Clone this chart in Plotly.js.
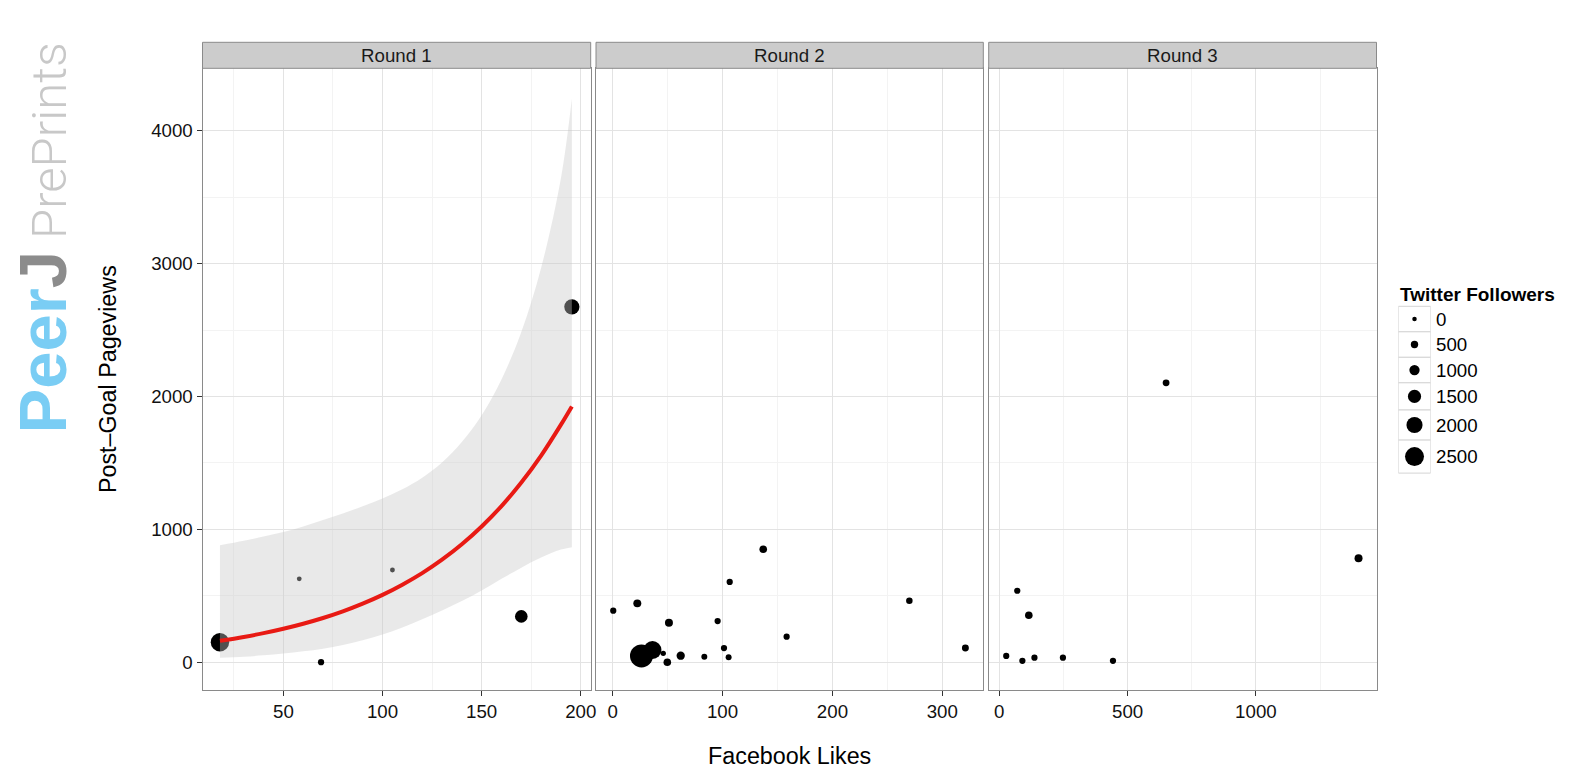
<!DOCTYPE html>
<html><head><meta charset="utf-8">
<script src="https://cdn.plot.ly/plotly-3.0.1.min.js"></script>
<style>html,body{margin:0;padding:0;background:#fff}#chart{width:1578px;height:772px}</style>
</head><body><div id="chart"></div>
<script>
// ---- Round 1 ----
const r1Likes = [18, 58, 69, 105, 170, 195.5];
const r1Views = [150, 628, 0, 694, 345, 2675];
const r1Followers = [2400, 50, 300, 70, 1400, 1850];
// fitted curve and its confidence band (round 1)
const fitLikes = [18, 30, 40, 50, 60, 70, 80, 90, 100, 110, 120, 130, 140, 150, 160, 170, 180, 190, 195.5];
const fitViews = [161, 190, 219, 252, 290, 333, 383, 441, 507, 584, 671, 772, 888, 1022, 1175, 1352, 1555, 1788, 1925];
const fitLower = [34, 42, 52, 65, 82, 102, 130, 165, 208, 262, 324, 390, 460, 539, 628, 712, 788, 848, 866];
const fitUpper = [880, 914, 946, 980, 1022, 1070, 1120, 1174, 1232, 1302, 1389, 1504, 1657, 1859, 2128, 2485, 2969, 3645, 4243];
// ---- Round 2 ----
const r2Likes = [26.2, 36.2, 137, 106.5, 22.4, 0.5, 270, 51.2, 95.5, 158.3, 321, 101.3, 61.9, 83.4, 105.5, 49.7, 46];
const r2Views = [47, 92, 850, 604, 443, 388, 463, 297, 310, 192, 107, 107, 49, 41, 37, 0, 67];
const r2Followers = [3190, 2320, 530, 300, 600, 300, 350, 600, 300, 300, 420, 300, 650, 250, 250, 530, 150];
// ---- Round 3 ----
const r3Likes = [1400, 70, 115, 27, 90, 137, 248, 443, 650];
const r3Views = [782, 538, 353, 47, 11, 34, 34, 11, 2103];
const r3Followers = [600, 300, 530, 300, 300, 300, 300, 300, 400];
// ---- labels ----
const roundLabels = ['Round 1', 'Round 2', 'Round 3'];
const legendBreaks = [0, 500, 1000, 1500, 2000, 2500];
const legendTitle = 'Twitter Followers';
const xTitle = 'Facebook Likes';
const yTitle = 'Post\u2013Goal Pageviews';

const W = 1578, H = 772;
const FONT = 'Liberation Sans, Arial, Helvetica, sans-serif';
const px = v => v / W;
const py = v => 1 - v / H;
const sz = v => 4.5 + 0.0058 * v;   // follower count -> marker diameter

const panelX = [[202.5, 590.7], [596.0, 983.3], [988.7, 1376.5]];
const panelTop = 68.3, panelBot = 690, stripTop = 42.3;
const yRange = [-209, 4470];
const xRanges = [[9.2, 205.0], [-15.2, 337.3], [-41.3, 1470]];
const xDticks = [50, 100, 500];

function pts(x, y, f, xa, ya) {
  return {type: 'scatter', mode: 'markers', x: x, y: y, xaxis: xa, yaxis: ya,
    marker: {color: '#000', opacity: 1, size: f.map(sz), line: {width: 0}}, hoverinfo: 'skip', showlegend: false};
}

const traces = [
  pts(r1Likes, r1Views, r1Followers, 'x', 'y'),
  {type: 'scatter', mode: 'lines', x: fitLikes, y: fitLower, xaxis: 'x', yaxis: 'y',
   line: {width: 0, shape: 'spline', smoothing: 1}, showlegend: false, hoverinfo: 'skip'},
  {type: 'scatter', mode: 'lines', x: fitLikes, y: fitUpper, xaxis: 'x', yaxis: 'y', fill: 'tonexty',
   fillcolor: 'rgba(200,200,200,0.4)', line: {width: 0, shape: 'spline', smoothing: 1}, showlegend: false, hoverinfo: 'skip'},
  {type: 'scatter', mode: 'lines', x: fitLikes, y: fitViews, xaxis: 'x', yaxis: 'y',
   line: {color: '#e81a14', width: 4, shape: 'spline', smoothing: 1}, showlegend: false, hoverinfo: 'skip'},
  pts(r2Likes, r2Views, r2Followers, 'x2', 'y2'),
  pts(r3Likes, r3Views, r3Followers, 'x3', 'y3')
];

// legend rows (mini subplot x4/y4 in pixel units)
const rowH = legendBreaks.map(v => Math.max(25.5, sz(v) + 14));
let rowCursor = 306.3;
const rowTop = [], rowMid = [];
rowH.forEach(h => { rowTop.push(rowCursor); rowMid.push(rowCursor + h / 2); rowCursor += h; });
traces.push({type: 'scatter', mode: 'markers', x: legendBreaks.map(() => 0.5), y: rowMid,
  xaxis: 'x4', yaxis: 'y4', marker: {color: '#000', opacity: 1, size: legendBreaks.map(sz), line: {width: 0}},
  showlegend: false, hoverinfo: 'skip'});

const tickFont = {family: FONT, size: 18.7, color: '#111'};
function xAxis(i) {
  return {domain: [px(panelX[i][0]), px(panelX[i][1])], range: xRanges[i], anchor: i ? 'y' + (i + 1) : 'y',
    showline: true, mirror: true, linecolor: '#8a8a8a', linewidth: 1,
    showgrid: true, gridcolor: '#e3e3e3', gridwidth: 1, zeroline: false,
    dtick: xDticks[i], tick0: 0, ticks: 'outside', ticklen: 5, tickwidth: 1, tickcolor: '#333',
    tickfont: tickFont, fixedrange: true,
    minor: {dtick: xDticks[i] / 2, tick0: 0, showgrid: true, gridcolor: '#f3f3f3', ticks: ''}};
}
function yAxis(i) {
  const a = {domain: [py(panelBot), py(panelTop)], range: yRange, anchor: i ? 'x' + (i + 1) : 'x',
    showline: true, mirror: true, linecolor: '#8a8a8a', linewidth: 1,
    showgrid: true, gridcolor: '#e3e3e3', gridwidth: 1, zeroline: false,
    dtick: 1000, tick0: 0, fixedrange: true,
    minor: {dtick: 500, tick0: 0, showgrid: true, gridcolor: '#f3f3f3', ticks: ''}};
  if (i === 0) {
    Object.assign(a, {ticks: 'outside', ticklen: 5, tickwidth: 1, tickcolor: '#333', tickfont: tickFont,
      title: {text: yTitle, font: {family: FONT, size: 23.3, color: '#000'}, standoff: 28}});
  } else {
    Object.assign(a, {ticks: '', showticklabels: false});
  }
  return a;
}

const shapes = [], annotations = [];
panelX.forEach((p, i) => {
  shapes.push({type: 'rect', xref: 'paper', yref: 'paper', x0: px(p[0]), x1: px(p[1]), y0: py(panelTop), y1: py(stripTop),
    fillcolor: '#cccccc', line: {color: '#8a8a8a', width: 1}});
  annotations.push({xref: 'paper', yref: 'paper', x: px((p[0] + p[1]) / 2), y: py((panelTop + stripTop) / 2),
    xanchor: 'center', yanchor: 'middle', text: roundLabels[i], showarrow: false,
    font: {family: FONT, size: 18.7, color: '#1a1a1a'}});
});
// legend key boxes, labels and title
legendBreaks.forEach((v, i) => {
  shapes.push({type: 'rect', xref: 'x4', yref: 'y4', x0: 0, x1: 1, y0: rowTop[i], y1: rowTop[i] + rowH[i],
    fillcolor: '#fff', line: {color: '#d4d4d4', width: 1}, layer: 'below'});
  annotations.push({xref: 'paper', yref: 'y4', x: px(1434.3), y: rowMid[i], xanchor: 'left', yanchor: 'middle',
    text: String(v), showarrow: false, font: {family: FONT, size: 18.7, color: '#000'}});
});
annotations.push({xref: 'paper', yref: 'paper', x: px(1398.3), y: py(294.7), xanchor: 'left', yanchor: 'middle',
  text: '<b>' + legendTitle + '</b>', showarrow: false, font: {family: FONT, size: 19, color: '#000'}});
// watermark
annotations.push({xref: 'paper', yref: 'paper', x: px(41.5), y: py(238), xanchor: 'center', yanchor: 'middle',
  textangle: -90, showarrow: false,
  text: '<b>Peer</b><span style="color:#8c8c8c"><b>J</b></span><span style="font-size:49px;font-family:Roboto;font-weight:300;color:#c8c8c8"> PrePrints</span>',
  font: {family: FONT, size: 67, color: '#7acdf4'}});

const layout = {
  width: W, height: H, margin: {l: 0, r: 0, t: 0, b: 0},
  paper_bgcolor: '#fff', plot_bgcolor: '#fff', showlegend: false,
  font: {family: FONT, color: '#000'},
  xaxis: xAxis(0), xaxis2: Object.assign(xAxis(1), {title: {text: xTitle, font: {family: FONT, size: 23.3, color: '#000'}, standoff: 26}}),
  xaxis3: xAxis(2),
  yaxis: yAxis(0), yaxis2: yAxis(1), yaxis3: yAxis(2),
  xaxis4: {domain: [px(1398.3), px(1430.7)], range: [0, 1], anchor: 'y4', visible: false, fixedrange: true},
  yaxis4: {domain: [py(480), py(300)], range: [480, 300], anchor: 'x4', visible: false, fixedrange: true},
  shapes: shapes, annotations: annotations
};
Plotly.newPlot('chart', traces, layout, {displayModeBar: false, staticPlot: true});
</script></body></html>
